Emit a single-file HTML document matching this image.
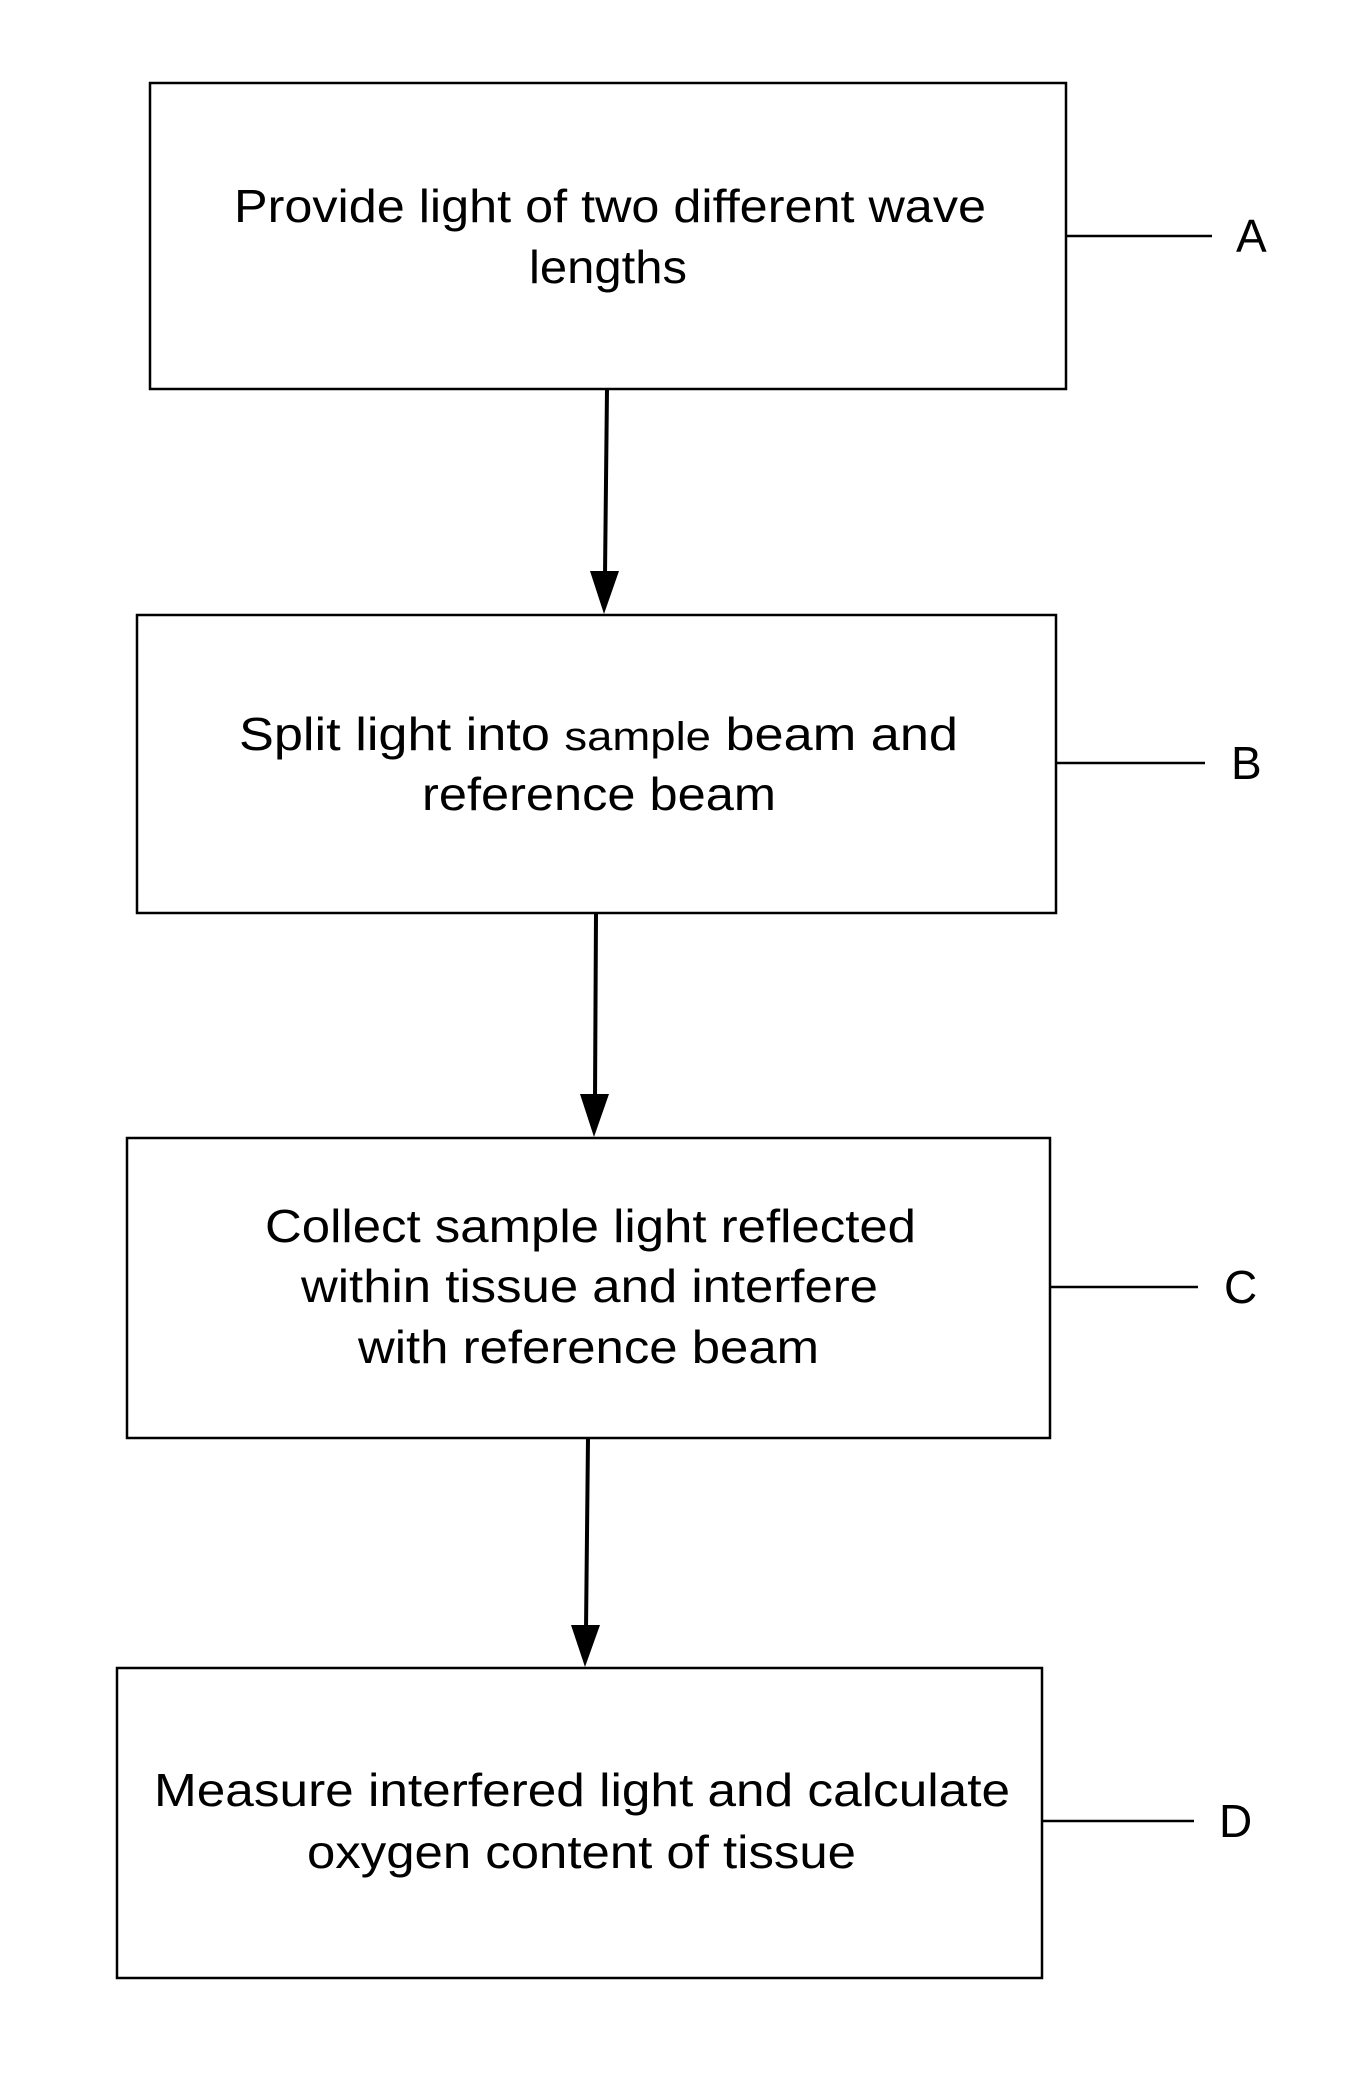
<!DOCTYPE html>
<html><head><meta charset="utf-8"><style>
html,body{margin:0;padding:0;background:#fff;}
svg{display:block;}
text{font-family:"Liberation Sans",Arial,sans-serif;font-size:46px;fill:#000;}
</style></head><body>
<svg width="1359" height="2079" viewBox="0 0 1359 2079" xmlns="http://www.w3.org/2000/svg">
<g fill="none" stroke="#000" stroke-width="2.5">
<rect x="150" y="83" width="916" height="306"/>
<rect x="137" y="615" width="919" height="298"/>
<rect x="127" y="1138" width="923" height="300"/>
<rect x="117" y="1668" width="925" height="310"/>
<line x1="1066" y1="236" x2="1212" y2="236"/>
<line x1="1056" y1="763" x2="1205" y2="763"/>
<line x1="1050" y1="1287" x2="1198" y2="1287"/>
<line x1="1042" y1="1821" x2="1194" y2="1821"/>
</g>
<g stroke="#000" stroke-width="4">
<line x1="607" y1="389" x2="605" y2="575"/>
<line x1="596" y1="913" x2="595" y2="1100"/>
<line x1="588" y1="1438" x2="586" y2="1630"/>
</g>
<g fill="#000">
<polygon points="590,571 619,571 604,614"/>
<polygon points="580,1094 609,1094 594,1137"/>
<polygon points="571,1625 600,1625 585,1667"/>
</g>
<text x="234" y="222" textLength="752" lengthAdjust="spacingAndGlyphs">Provide light of two different wave</text>
<text x="529" y="283" textLength="158" lengthAdjust="spacingAndGlyphs">lengths</text>
<text x="239" y="750" textLength="719" lengthAdjust="spacingAndGlyphs">Split light into <tspan font-size="40">sample</tspan> beam and</text>
<text x="422" y="810" textLength="354" lengthAdjust="spacingAndGlyphs">reference beam</text>
<text x="265" y="1242" textLength="651" lengthAdjust="spacingAndGlyphs">Collect sample light reflected</text>
<text x="301" y="1302" textLength="577" lengthAdjust="spacingAndGlyphs">within tissue and interfere</text>
<text x="358" y="1363" textLength="461" lengthAdjust="spacingAndGlyphs">with reference beam</text>
<text x="154" y="1806" textLength="856" lengthAdjust="spacingAndGlyphs">Measure interfered light and calculate</text>
<text x="307" y="1868" textLength="549" lengthAdjust="spacingAndGlyphs">oxygen content of tissue</text>
<text x="1236" y="252" font-size="42">A</text>
<text x="1231" y="779" font-size="42">B</text>
<text x="1224" y="1303" font-size="42">C</text>
<text x="1219" y="1837" font-size="42">D</text>
</svg>
</body></html>
